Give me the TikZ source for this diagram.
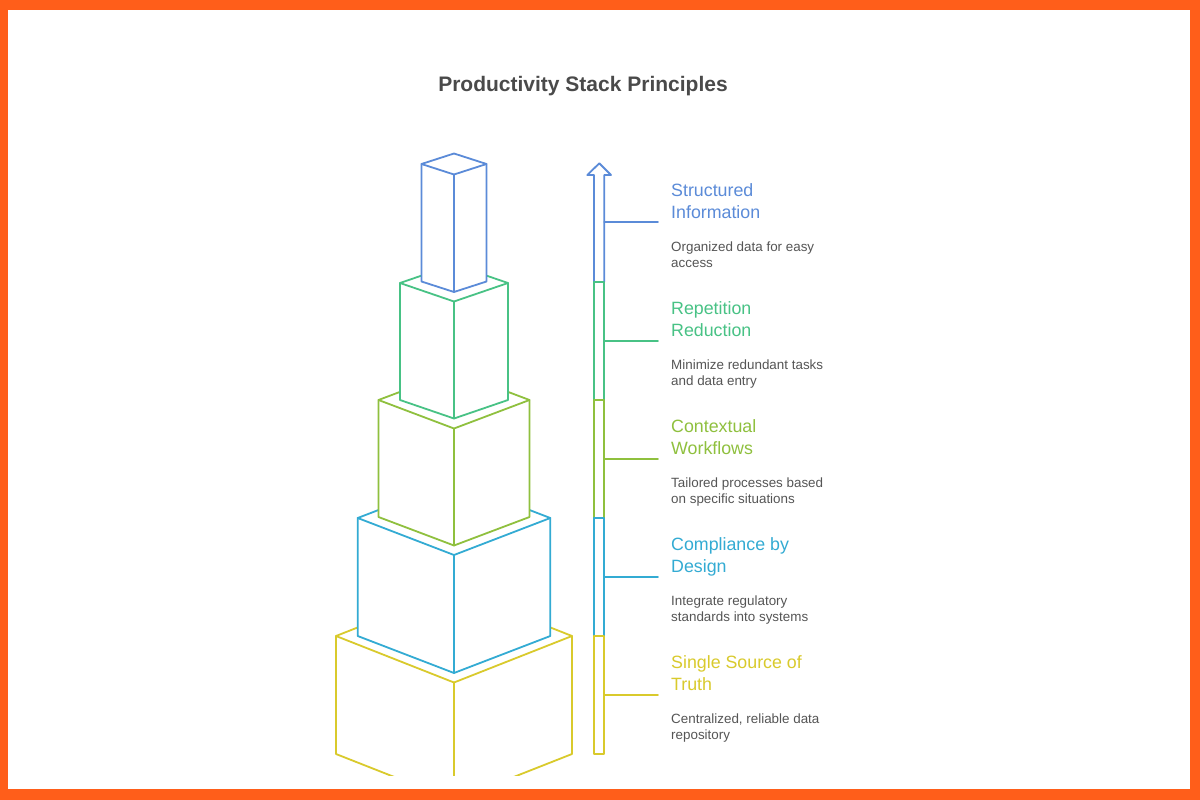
\documentclass[tikz,border=0pt]{standalone}
\usepackage{fontspec}
\setmainfont{Liberation Sans}
\definecolor{frameC}{HTML}{FF5E1A}
\definecolor{cB}{HTML}{5B8BD8}
\definecolor{cG}{HTML}{48C285}
\definecolor{cO}{HTML}{8FC03E}
\definecolor{cC}{HTML}{33ABD3}
\definecolor{cY}{HTML}{D9CA2C}
\definecolor{ttlC}{HTML}{4A4A4A}
\definecolor{dscC}{HTML}{555555}
\newcommand\isobox[6]{%
  \draw[#1, fill=white, line width=1.8pt] (#2-#3,#4) -- (#2,#4-#6) -- (#2+#3,#4) -- (#2+#3,#5) -- (#2,#5+#6) -- (#2-#3,#5) -- cycle;
  \draw[#1, line width=1.8pt] (#2-#3,#4) -- (#2,#4+#6) -- (#2+#3,#4) (#2,#4+#6) -- (#2,#5+#6);
}
\tikzset{
  hd/.style={inner sep=0pt, anchor=base west, font=\fontsize{17.8}{21}\selectfont},
  ds/.style={inner sep=0pt, anchor=base west, text=dscC, font=\fontsize{13.4}{16}\selectfont},
  seg/.style={line width=1.8pt},
  tick/.style={line width=1.8pt}
}
\begin{document}
\begin{tikzpicture}[x=1pt,y=-1pt, line join=round, line cap=round]
\fill[frameC] (0,0) rectangle (1200,800);
\fill[white] (8,10) rectangle (1190,789);
\useasboundingbox (0,0) rectangle (1200,800);

\node[inner sep=0pt, anchor=base, text=ttlC, font=\fontsize{21}{25}\selectfont\bfseries] (title) at (583,91.5) {Productivity Stack Principles};

% stacked boxes
\begin{scope}
\clip (0,0) rectangle (1200,775);
\isobox{cY}{454}{118}{636}{754}{46.5}
\isobox{cC}{454}{96.3}{518}{636}{37}
\isobox{cO}{454}{75.5}{400}{517}{28.5}
\isobox{cG}{454}{54}{283}{400}{18.5}
\isobox{cB}{454}{32.5}{164}{281.5}{10.5}
\end{scope}

% arrow bar
\draw[seg, cB, fill=white] (594,282) -- (594,175) -- (587.3,175) -- (599.3,163.3) -- (611,175) -- (604.3,175) -- (604.3,282) -- cycle;
\draw[seg, cG] (594,282) rectangle (604.3,400);
\draw[seg, cO] (594,400) rectangle (604.3,518);
\draw[seg, cC] (594,518) rectangle (604.3,636);
\draw[seg, cY] (594,636) rectangle (604.3,754);

% ticks
\coordinate (k1s) at (604.3,222.3); \coordinate (k1e) at (658,222.3);
\coordinate (k2s) at (604.3,340.8); \coordinate (k2e) at (658,340.8);
\coordinate (k3s) at (604.3,459); \coordinate (k3e) at (658,459);
\coordinate (k4s) at (604.3,577); \coordinate (k4e) at (658,577);
\coordinate (k5s) at (604.3,695); \coordinate (k5e) at (658,695);
\draw[tick, cB] (k1s) -- (k1e);
\draw[tick, cG] (k2s) -- (k2e);
\draw[tick, cO] (k3s) -- (k3e);
\draw[tick, cC] (k4s) -- (k4e);
\draw[tick, cY] (k5s) -- (k5e);

% texts
\node[hd, text=cB] (t1a) at (671,196.5) {Structured};
\node[hd, text=cB] (t1b) at (671,218.5) {Information};
\node[ds] (d1a) at (671,251) {Organized data for easy};
\node[ds] (d1b) at (671,267) {access};

\node[hd, text=cG] (t2a) at (671,314.5) {Repetition};
\node[hd, text=cG] (t2b) at (671,336.5) {Reduction};
\node[ds] (d2a) at (671,369) {Minimize redundant tasks};
\node[ds] (d2b) at (671,385) {and data entry};

\node[hd, text=cO] (t3a) at (671,432.5) {Contextual};
\node[hd, text=cO] (t3b) at (671,454.5) {Workflows};
\node[ds] (d3a) at (671,487) {Tailored processes based};
\node[ds] (d3b) at (671,503) {on specific situations};

\node[hd, text=cC] (t4a) at (671,550.5) {Compliance by};
\node[hd, text=cC] (t4b) at (671,572.5) {Design};
\node[ds] (d4a) at (671,605) {Integrate regulatory};
\node[ds] (d4b) at (671,621) {standards into systems};

\node[hd, text=cY] (t5a) at (671,668.5) {Single Source of};
\node[hd, text=cY] (t5b) at (671,690.5) {Truth};
\node[ds] (d5a) at (671,723) {Centralized, reliable data};
\node[ds] (d5b) at (671,739) {repository};
\end{tikzpicture}
\end{document}
